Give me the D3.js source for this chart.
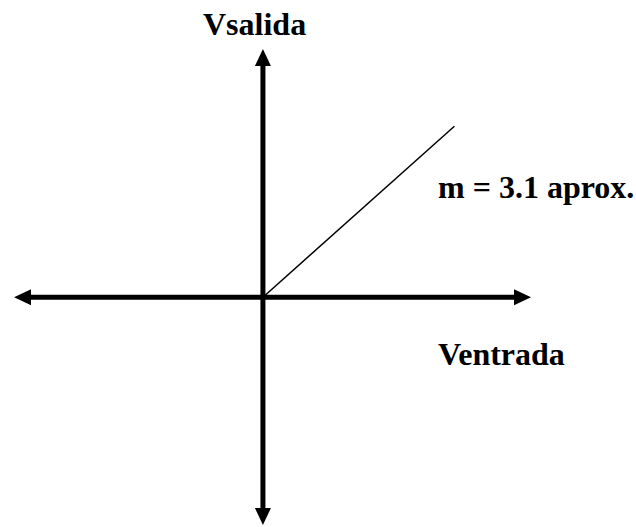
<!DOCTYPE html>
<html>
<head>
<meta charset="utf-8">
<script src="https://cdn.jsdelivr.net/npm/d3@7"></script>
<style>
  body { margin: 0; background: #fff; }
  text { font-family: "Liberation Serif", "Times New Roman", serif; font-weight: bold; }
</style>
</head>
<body>
<div id="chart"></div>
<script>
// axis extents (data units) and the plotted response
const xExtent = [-1.3, 1.4]
const yExtent = [-4.13, 4.5]
const vin = [0, 1]
const vout = [0, 3.1]
const xLabel = "Ventrada"
const yLabel = "Vsalida"
const slopeLabel = "m = 3.1 aprox."

width = 636
height = 527

svg = d3.select("#chart").append("svg")
  .attr("width", width)
  .attr("height", height)

x = d3.scaleLinear().domain(xExtent).range([14, 531])
y = d3.scaleLinear().domain(yExtent).range([525, 49])

const head = 17, half = 8

// horizontal axis
svg.append("line")
  .attr("x1", x(xExtent[0]) + head - 2).attr("x2", x(xExtent[1]) - head + 2)
  .attr("y1", y(0)).attr("y2", y(0))
  .attr("stroke", "#000").attr("stroke-width", 5)

// vertical axis
svg.append("line")
  .attr("x1", x(0)).attr("x2", x(0))
  .attr("y1", y(yExtent[1]) + head - 2).attr("y2", y(yExtent[0]) - head + 2)
  .attr("stroke", "#000").attr("stroke-width", 5)

// arrow heads
const tips = [
  [x(xExtent[0]), y(0), -1, 0],
  [x(xExtent[1]), y(0), 1, 0],
  [x(0), y(yExtent[1]), 0, -1],
  [x(0), y(yExtent[0]), 0, 1]
]
svg.selectAll("path.tip")
  .data(tips)
  .enter().append("path")
  .attr("class", "tip")
  .attr("fill", "#000")
  .attr("d", ([tx, ty, dx, dy]) => {
    const bx = tx - dx * head, by = ty - dy * head
    return `M${tx},${ty}L${bx - dy * half},${by + dx * half}L${bx + dy * half},${by - dx * half}Z`
  })

// response line
line = d3.line()
  .x((d, i) => x(vin[i]))
  .y(d => y(d))

svg.append("path")
  .datum(vout)
  .attr("fill", "none")
  .attr("stroke", "#000")
  .attr("stroke-width", 1.5)
  .attr("d", line)

// labels
svg.append("text")
  .attr("x", 203).attr("y", 35)
  .attr("font-size", 32)
  .text(yLabel)

svg.append("text")
  .attr("x", 438).attr("y", 198)
  .attr("font-size", 32)
  .text(slopeLabel)

svg.append("text")
  .attr("x", 438).attr("y", 365)
  .attr("font-size", 32)
  .text(xLabel)
</script>
</body>
</html>
